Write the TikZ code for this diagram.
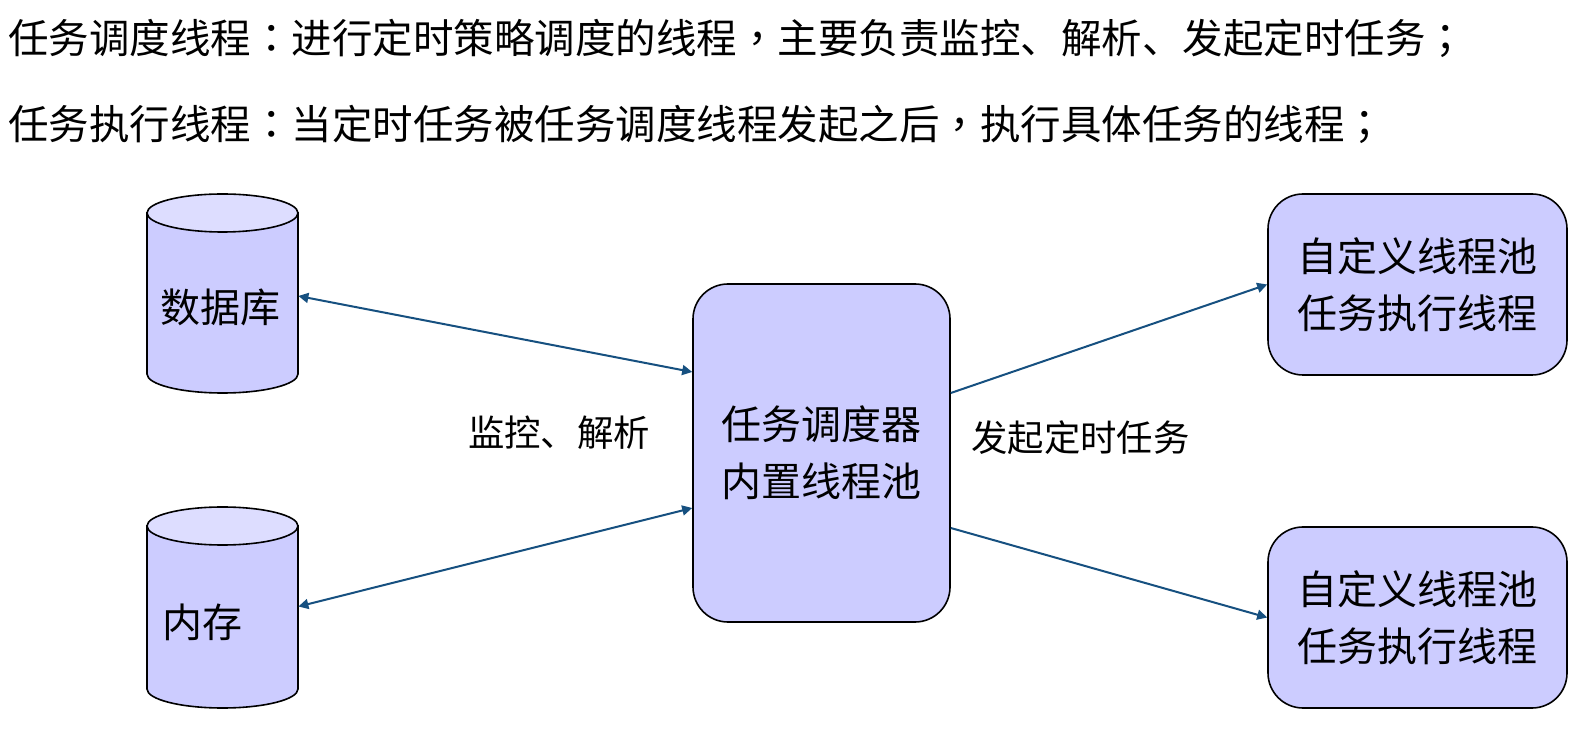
\documentclass[tikz,border=0pt]{standalone}
\usepackage{fontspec}
\setmainfont{Noto Sans CJK SC}
\newfontfamily\tcpunct{Noto Sans CJK TC}
\usetikzlibrary{arrows.meta,calc}
\definecolor{boxfill}{RGB}{204,204,255}
\definecolor{cyltop}{RGB}{221,221,255}
\definecolor{arrowblue}{RGB}{22,80,128}
\begin{document}
\begin{tikzpicture}[x=0.5pt,y=-0.5pt,
  box/.style={draw=black, fill=boxfill, rounded corners=17.5pt, line width=0.8pt, align=center, inner sep=0pt},
  cyl/.style={draw=black, line width=0.8pt},
  anchorbox/.style={draw=none, inner sep=0pt, minimum width=75.5pt, minimum height=99.5pt},
  boxtext/.style={font=\fontsize{20pt}{28.5pt}\selectfont},
  labeltext/.style={font=\fontsize{18.2pt}{22pt}\selectfont, inner sep=0pt},
  titletext/.style={font=\fontsize{20.25pt}{24pt}\selectfont, anchor=west, inner sep=0pt},
  conn/.style={draw=arrowblue, line width=1pt, -{Triangle[length=5pt,width=5pt]}},
  biconn/.style={draw=arrowblue, line width=1pt, {Triangle[length=5pt,width=5pt]}-{Triangle[length=5pt,width=5pt]}}
]
\useasboundingbox (0,0) rectangle (1595,742);
\fill[white] (0,0) rectangle (1595,742);

% title lines
\node[titletext] (t1) at (8,38) {任务调度线程{\tcpunct ：}进行定时策略调度的线程{\tcpunct ，}主要负责监控、解析、发起定时任务{\tcpunct ；}};
\node[titletext] (t2) at (8,124) {任务执行线程{\tcpunct ：}当定时任务被任务调度线程发起之后{\tcpunct ，}执行具体任务的线程{\tcpunct ；}};

% cylinder: database
\path[cyl, fill=boxfill] (147,213) -- (147,374) arc[start angle=180, end angle=0, x radius=75.5, y radius=19] -- (298,213) -- cycle;
\path[cyl, fill=cyltop] (222.5,213) ellipse[x radius=75.5, y radius=19];
\node[anchorbox] (db) at (222.5,293.5) {};
\node[boxtext, inner sep=0pt] (dbt) at (220,307) {数据库};

% cylinder: memory
\path[cyl, fill=boxfill] (147,526) -- (147,689) arc[start angle=180, end angle=0, x radius=75.5, y radius=19] -- (298,526) -- cycle;
\path[cyl, fill=cyltop] (222.5,526) ellipse[x radius=75.5, y radius=19];
\node[anchorbox, minimum height=100.5pt] (mem) at (222.5,607.5) {};
\node[boxtext, inner sep=0pt] (memt) at (202.5,622) {内存};

% scheduler
\node[box, boxtext, minimum width=128.5pt, minimum height=169pt] (sched) at (821.5,453) {任务调度器\\内置线程池};

% executors
\node[box, boxtext, minimum width=149.5pt, minimum height=90.5pt] (ex1) at (1417.5,284.5) {自定义线程池\\任务执行线程};
\node[box, boxtext, minimum width=149.5pt, minimum height=90.5pt] (ex2) at (1417.5,617.5) {自定义线程池\\任务执行线程};

% labels
\node[labeltext] (l1) at (559,433) {监控、解析};
\node[labeltext] (l2) at (1080.5,438) {发起定时任务};

% connectors
\draw[biconn] ($(db.east)+(0,2.5)$) -- ($(sched.west)+(0,-81)$);
\draw[biconn] ($(mem.east)+(0,-1)$) -- ($(sched.west)+(0,55)$);
\draw[conn] ($(sched.east)+(0,-60)$) -- (ex1.west);
\draw[conn] ($(sched.east)+(0,75)$) -- (ex2.west);
\end{tikzpicture}
\end{document}
